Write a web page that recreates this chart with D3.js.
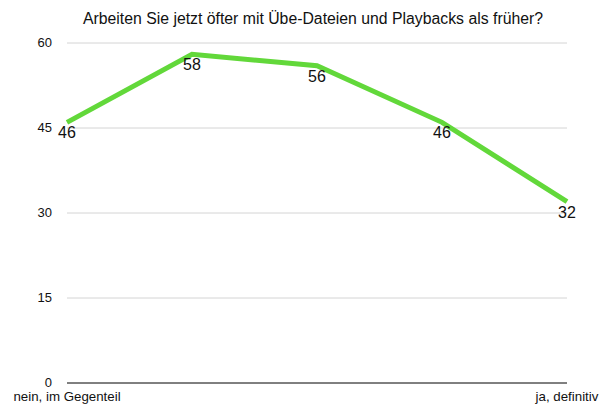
<!DOCTYPE html>
<html>
<head>
<meta charset="utf-8">
<script src="https://cdn.jsdelivr.net/npm/d3@7"></script>
<style>
body { margin: 0; background: #fff; }
text { font-family: Helvetica, Arial, "Liberation Sans", sans-serif; fill: #111; }
</style>
</head>
<body>
<div id="chart"></div>
<script>
// data
var categories = ["nein, im Gegenteil", "2", "3", "4", "ja, definitiv"];
var values = [46, 58, 56, 46, 32];
var yTicks = [0, 15, 30, 45, 60];
var title = "Arbeiten Sie jetzt öfter mit Übe-Dateien und Playbacks als früher?";

var margin = {top: 43, right: 44, bottom: 25, left: 67};
var W = 611, H = 408;
var width = W - margin.left - margin.right;
var height = H - margin.top - margin.bottom;

var svg = d3.select("#chart").append("svg")
  .attr("width", W)
  .attr("height", H);

svg.append("text")
  .attr("x", 313)
  .attr("y", 24)
  .attr("text-anchor", "middle")
  .style("font-size", "15.8px")
  .text(title);

var g = svg.append("g")
  .attr("transform", "translate(" + margin.left + "," + margin.top + ")");

var x = d3.scalePoint().domain(categories).range([0, width]);
var y = d3.scaleLinear().domain([0, 60]).range([height, 0]);

// gridlines
g.selectAll(".grid")
  .data(yTicks.filter(d => d > 0))
  .enter().append("line")
  .attr("x1", 0)
  .attr("x2", width)
  .attr("y1", d => y(d))
  .attr("y2", d => y(d))
  .style("stroke", "#d4d4d4")
  .style("stroke-width", 1);

// baseline
g.append("line")
  .attr("x1", 0)
  .attr("x2", width)
  .attr("y1", y(0))
  .attr("y2", y(0))
  .style("stroke", "#000")
  .style("stroke-width", 1);

// y tick labels
g.selectAll(".ytick")
  .data(yTicks)
  .enter().append("text")
  .attr("x", -15)
  .attr("y", d => y(d))
  .attr("dy", "0.32em")
  .attr("text-anchor", "end")
  .style("font-size", "13px")
  .text(d => d);

// x labels (first and last only)
g.selectAll(".xtick")
  .data([categories[0], categories[categories.length - 1]])
  .enter().append("text")
  .attr("x", d => x(d))
  .attr("y", height + 18)
  .attr("text-anchor", "middle")
  .style("font-size", "13.3px")
  .text(d => d);

var line = d3.line()
  .x((d, i) => x(categories[i]))
  .y(d => y(d));

g.append("path")
  .datum(values)
  .attr("d", line)
  .style("fill", "none")
  .style("stroke", "#62d83a")
  .style("stroke-width", 5)
  .style("stroke-linejoin", "miter");

g.selectAll(".vlabel")
  .data(values)
  .enter().append("text")
  .attr("x", (d, i) => x(categories[i]))
  .attr("y", d => y(d) + 16)
  .attr("text-anchor", "middle")
  .style("font-size", "16px")
  .text(d => d);
</script>
</body>
</html>
